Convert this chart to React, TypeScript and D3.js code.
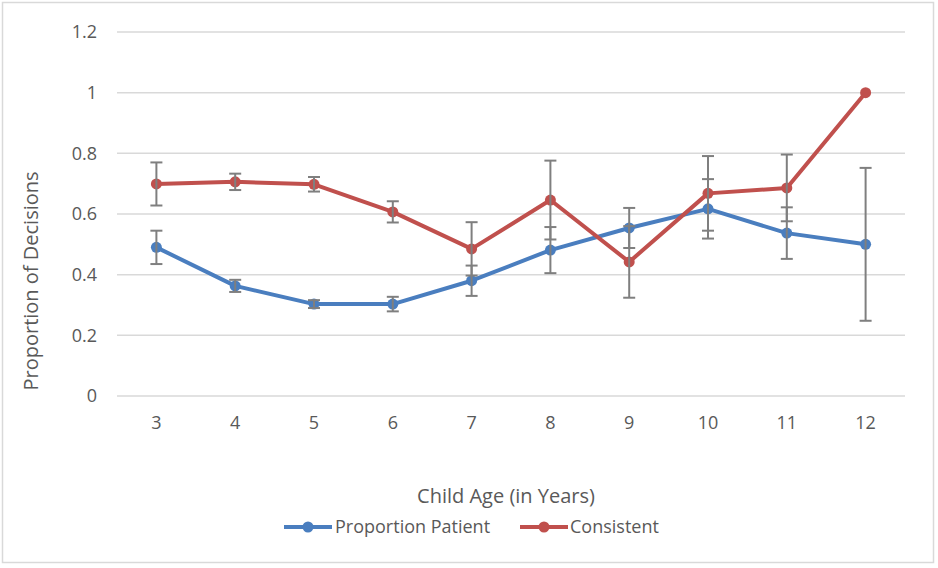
import React from "react";
import * as d3 from "d3";

const ages = ["3", "4", "5", "6", "7", "8", "9", "10", "11", "12"];
const patient = [0.49, 0.363, 0.303, 0.303, 0.38, 0.481, 0.554, 0.617, 0.537, 0.5];
const patientErr = [0.055, 0.02, 0.013, 0.024, 0.05, 0.076, 0.066, 0.098, 0.085, 0.252];
const consistent = [0.699, 0.706, 0.698, 0.607, 0.485, 0.646, 0.442, 0.668, 0.686, 1.0];
const consistentErr = [0.071, 0.027, 0.024, 0.035, 0.088, 0.13, 0.118, 0.123, 0.11, 0];
const yTicks = [0, 0.2, 0.4, 0.6, 0.8, 1, 1.2];
const seriesNames = ["Proportion Patient", "Consistent"];

const W = 938, H = 568;
const BLUE = "#4a7ebf";
const RED = "#c0504d";
const FONT = "'Open Sans', 'Noto Sans', sans-serif";

export default function App() {
  const x = d3.scaleBand<string>().domain(ages).range([117, 905]);
  const y = d3.scaleLinear().domain([0, 1.2]).range([396, 32]);
  const cx = (a: string) => (x(a) as number) + x.bandwidth() / 2;
  const line = d3.line<number>().x((_, i) => cx(ages[i])).y((v) => y(v));
  const series = [
    { name: seriesNames[0], vals: patient, err: patientErr, color: BLUE },
    { name: seriesNames[1], vals: consistent, err: consistentErr, color: RED },
  ];
  const fmt = (v: number) => String(+v.toFixed(1));
  return (
    <div style={{ position: "absolute", left: 0, top: 0 }}>
      <svg width={W} height={H} style={{ display: "block", fontFamily: FONT }}>
        <rect x={0} y={0} width={W} height={H} fill="#fff" />
        <rect x={2.5} y={2.5} width={931} height={560} fill="none" stroke="#d9d9d9" strokeWidth={1.5} />
        {yTicks.map((t) => (
          <g key={t}>
            <line x1={117} x2={905} y1={y(t)} y2={y(t)} stroke="#d9d9d9" strokeWidth={1.5} />
            <text x={97} y={y(t)} dy="0.35em" textAnchor="end" fontSize={18} fill="#595959">{fmt(t)}</text>
          </g>
        ))}
        {ages.map((a) => (
          <text key={a} x={cx(a)} y={423} dy="0.35em" textAnchor="middle" fontSize={18} fill="#595959">{a}</text>
        ))}
        <text x={31} y={281} transform="rotate(-90 31 281)" textAnchor="middle" dy="0.35em" fontSize={20} fill="#595959">Proportion of Decisions</text>
        <text x={506} y={496} textAnchor="middle" dy="0.35em" fontSize={20} fill="#595959">Child Age (in Years)</text>
        {series.map((s) => (
          <g key={s.name}>
            <path d={line(s.vals) as string} fill="none" stroke={s.color} strokeWidth={4} strokeLinejoin="round" />
            {s.vals.map((v, i) => (
              <circle key={i} cx={cx(ages[i])} cy={y(v)} r={5.5} fill={s.color} />
            ))}
          </g>
        ))}
        {series.map((s) => (
          <g key={s.name + "err"} stroke="#7f7f7f" strokeWidth={2}>
            {s.vals.map((v, i) =>
              s.err[i] > 0 ? (
                <g key={i}>
                  <line x1={cx(ages[i])} x2={cx(ages[i])} y1={y(v + s.err[i])} y2={y(v - s.err[i])} />
                  <line x1={cx(ages[i]) - 6} x2={cx(ages[i]) + 6} y1={y(v + s.err[i])} y2={y(v + s.err[i])} />
                  <line x1={cx(ages[i]) - 6} x2={cx(ages[i]) + 6} y1={y(v - s.err[i])} y2={y(v - s.err[i])} />
                </g>
              ) : null
            )}
          </g>
        ))}
        {[{ x0: 284, tx: 335 }, { x0: 520, tx: 570 }].map((p, i) => (
          <g key={i}>
            <line x1={p.x0} x2={p.x0 + 48} y1={527} y2={527} stroke={series[i].color} strokeWidth={4} />
            <circle cx={p.x0 + 24} cy={527} r={5.5} fill={series[i].color} />
            <text x={p.tx} y={527} dy="0.35em" fontSize={18} fill="#595959">{series[i].name}</text>
          </g>
        ))}
      </svg>
    </div>
  );
}
